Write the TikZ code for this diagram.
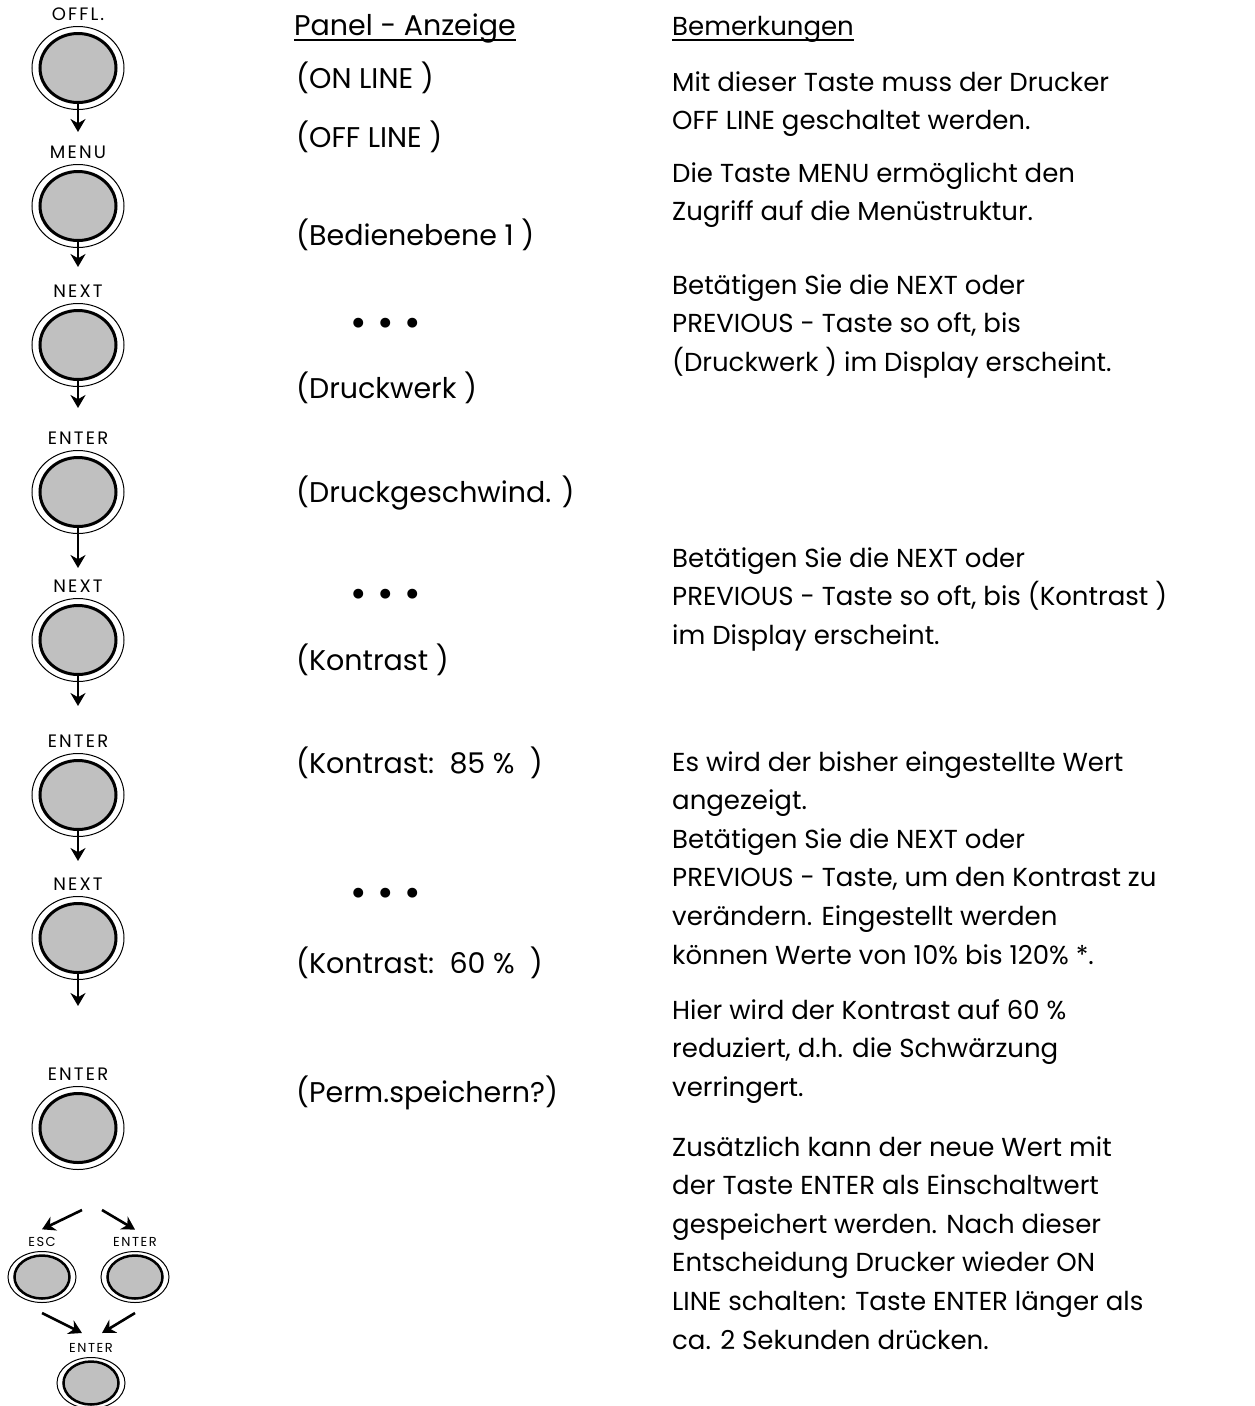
\documentclass[tikz,border=0pt]{standalone}
\usepackage{fontspec}
\setmainfont{Poppins}
\usetikzlibrary{shapes.geometric,arrows.meta,positioning}
\definecolor{keygray}{HTML}{C0C0C0}

\begin{document}
\begin{tikzpicture}[
  x=1pt, y=-1pt,
  ring/.style  = {draw, line width=1pt, ellipse, inner sep=0pt,
                  minimum width=92pt, minimum height=83pt},
  key/.style   = {draw, line width=3pt, ellipse, fill=keygray, inner sep=0pt,
                  minimum width=76pt, minimum height=69pt},
  sring/.style = {ring, minimum width=68pt, minimum height=51pt},
  skey/.style  = {key, line width=2.5pt, minimum width=55pt, minimum height=43pt},
  klbl/.style  = {inner sep=0pt, font=\fontsize{18}{20}\selectfont\addfontfeature{LetterSpace=12}},
  sklbl/.style = {inner sep=0pt, font=\fontsize{13}{14}\selectfont\addfontfeature{LetterSpace=12}},
  disp/.style  = {anchor=base west, inner sep=0pt, font=\fontsize{28.5}{34}\selectfont},
  note/.style  = {anchor=base west, inner sep=0pt, align=left, font=\fontsize{26}{38.6}\selectfont},
  dots/.style  = {inner sep=0pt, font=\fontsize{40}{40}\selectfont},
  arr/.style   = {-{Stealth[length=13pt,width=15pt]}, line width=2.6pt},
  uline/.style = {line width=1.6pt},
]
\useasboundingbox (0,0) rectangle (1255,1406);

% keys
\node[ring] (offl) at (78,68) {};
\node[key] (offlk) at (offl) {};
\node[klbl, above=5pt of offl] (offlt) {OFFL.};
\node[ring] (menu) at (78,206) {};
\node[key] (menuk) at (menu) {};
\node[klbl, above=5pt of menu] (menut) {MENU};
\node[ring] (nxta) at (78,345) {};
\node[key] (nxtak) at (nxta) {};
\node[klbl, above=5pt of nxta] (nxtat) {NEXT};
\node[ring] (enta) at (78,492) {};
\node[key] (entak) at (enta) {};
\node[klbl, above=5pt of enta] (entat) {ENTER};
\node[ring] (nxtb) at (78,640) {};
\node[key] (nxtbk) at (nxtb) {};
\node[klbl, above=5pt of nxtb] (nxtbt) {NEXT};
\node[ring] (entb) at (78,795) {};
\node[key] (entbk) at (entb) {};
\node[klbl, above=5pt of entb] (entbt) {ENTER};
\node[ring] (nxtc) at (78,938) {};
\node[key] (nxtck) at (nxtc) {};
\node[klbl, above=5pt of nxtc] (nxtct) {NEXT};
\node[ring] (entc) at (78,1128) {};
\node[key] (entck) at (entc) {};
\node[klbl, above=5pt of entc] (entct) {ENTER};

\coordinate[below=28pt of offlk] (offla);
\coordinate[below=25pt of menuk] (menua);
\coordinate[below=27pt of nxtak] (nxtaa);
\coordinate[below=40pt of entak] (entaa);
\coordinate[below=30pt of nxtbk] (nxtba);
\coordinate[below=30pt of entbk] (entba);
\coordinate[below=32pt of nxtck] (nxtca);
\draw[arr] (offlk.south) -- (offla);
\draw[arr] (menuk.south) -- (menua);
\draw[arr] (nxtak.south) -- (nxtaa);
\draw[arr] (entak.south) -- (entaa);
\draw[arr] (nxtbk.south) -- (nxtba);
\draw[arr] (entbk.south) -- (entba);
\draw[arr] (nxtck.south) -- (nxtca);

% ESC / ENTER choice
\node[sring] (esc) at (42,1277) {};
\node[skey] (esck) at (esc) {};
\node[sklbl, above=4pt of esc] (esct) {ESC};
\node[sring] (save) at (135,1277) {};
\node[skey] (savek) at (save) {};
\node[sklbl, above=4pt of save] (savet) {ENTER};
\node[sring] (fin) at (91,1383) {};
\node[skey] (fink) at (fin) {};
\node[sklbl, above=4pt of fin] (fint) {ENTER};

\coordinate (spl) at (82,1210);
\coordinate (spr) at (102,1210);
\coordinate[above=8pt of esct] (escin);
\coordinate[above=8pt of savet] (savein);
\coordinate[below=10pt of esc] (escout);
\coordinate[below=10pt of save] (saveout);
\coordinate (finl) at (82,1333);
\coordinate (finr) at (102,1333);
\draw[arr] (spl) -- (escin);
\draw[arr] (spr) -- (savein);
\draw[arr] (escout) -- (finl);
\draw[arr] (saveout) -- (finr);

% Panel - Anzeige
\node[disp] (pnl) at (294,35) {Panel - Anzeige};
\draw[uline] ([yshift=-5pt]pnl.base west) -- ([yshift=-5pt]pnl.base east);
\node[disp] (onl) at (296,88) {(ON LINE )};
\node[disp] (offln) at (296,147) {(OFF LINE )};
\node[disp] (bed) at (296,245) {(Bedienebene 1 )};
\node[dots] (dta) at (386,327) {\textbullet\ \textbullet\ \textbullet};
\node[disp] (dwk) at (296,398) {(Druckwerk )};
\node[disp] (dgs) at (296,502) {(Druckgeschwind. )};
\node[dots] (dtb) at (386,598) {\textbullet\ \textbullet\ \textbullet};
\node[disp] (kon) at (296,670) {(Kontrast )};
\node[disp] (kona) at (296,773) {(Kontrast:\ \ 85 \%\ \ )};
\node[dots] (dtc) at (386,897) {\textbullet\ \textbullet\ \textbullet};
\node[disp] (konb) at (296,973) {(Kontrast:\ \ 60 \%\ \ )};
\node[disp] (perm) at (296,1102) {(Perm.speichern?)};

% Bemerkungen (anchor sits below the last line)
\node[anchor=base west, inner sep=0pt, font=\fontsize{26}{38.6}\selectfont] (bem) at (672,35) {Bemerkungen};
\draw[uline] ([yshift=-5pt]bem.base west) -- ([yshift=-5pt]bem.base east);
\node[note] (ra) at (672,129.6) {Mit dieser Taste muss der Drucker\\OFF LINE geschaltet werden.};
\node[note] (rb) at (672,220.6) {Die Taste MENU ermöglicht den\\Zugriff auf die Menüstruktur.};
\node[note] (rc) at (672,371.2) {Betätigen Sie die NEXT oder\\PREVIOUS - Taste so oft, bis\\(Druckwerk ) im Display erscheint.};
\node[note] (rd) at (672,644.2) {Betätigen Sie die NEXT oder\\PREVIOUS - Taste so oft, bis (Kontrast )\\im Display erscheint.};
\node[note] (re) at (672,964) {Es wird der bisher eingestellte Wert\\angezeigt.\\Betätigen Sie die NEXT oder\\PREVIOUS - Taste, um den Kontrast zu\\verändern. Eingestellt werden\\können Werte von 10\% bis 120\% *.};
\node[note] (rf) at (672,1096.2) {Hier wird der Kontrast auf 60 \%\\reduziert, d.h. die Schwärzung\\verringert.};
\node[note] (rg) at (672,1349) {Zusätzlich kann der neue Wert mit\\der Taste ENTER als Einschaltwert\\gespeichert werden. Nach dieser\\Entscheidung Drucker wieder ON\\LINE schalten: Taste ENTER länger als\\ca. 2 Sekunden drücken.};
\end{tikzpicture}
\end{document}
